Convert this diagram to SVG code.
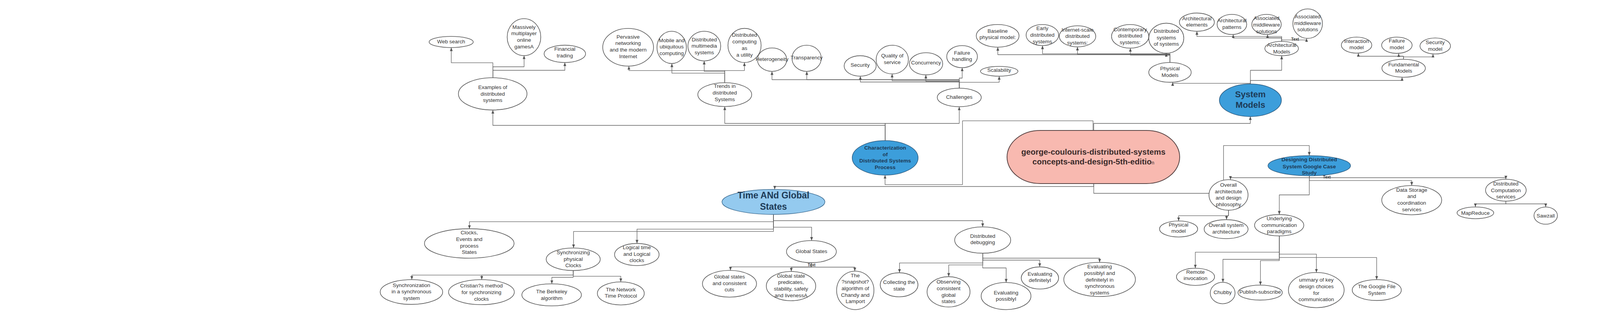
<svg xmlns="http://www.w3.org/2000/svg" width="4555" height="827" viewBox="0 0 4555 827">
<defs>
<marker id="arr" viewBox="0 0 10 10" refX="10" refY="5" markerWidth="9" markerHeight="9" markerUnits="userSpaceOnUse" orient="auto"><path d="M0,1 L10,5 L0,9 z" fill="#555"/></marker>
<style>
.c path{fill:none;stroke:#606060;stroke-width:1.3;stroke-linejoin:round}
.c path.a{marker-end:url(#arr)}
ellipse.w{fill:#fff;stroke:#595959;stroke-width:1.6}
ellipse.b{fill:#3c9edb;stroke:#2e5c80;stroke-width:1.5}
ellipse.lb{fill:#94caef;stroke:#3a6a90;stroke-width:1.5}
text{font-family:"Liberation Sans",Arial,sans-serif;text-anchor:middle}
.t{font-size:13.5px;fill:#333}
.bt{font-size:13.7px;font-weight:bold;fill:#1d3a56}
.lbl{font-size:10px;font-weight:bold;fill:#333}
</style>
</defs>
<rect width="4555" height="827" fill="#fff"/>
<g id="connectors" class="c">
<path class="a" d="M1261.7,199 V160.7 H1155.3 V121.7"/>
<path class="a" d="M1261.7,199 V171 H1341.6 V142.3"/>
<path class="a" d="M1261.7,199 V180 H1446 V160"/>
<path class="a" d="M2266,360 V321 H1261.7 V281.7"/>
<path class="a" d="M2266,360 V316 H1855.4 V272.7"/>
<path class="a" d="M2266,360 V316 H2455.6 V273.3"/>
<path class="a" d="M1855.4,211.7 V180.7 H1610 V169.3"/>
<path class="a" d="M1855.4,211.7 V187.3 H1720 V162.7"/>
<path class="a" d="M1855.4,211.7 V182.7 H1802.7 V156"/>
<path class="a" d="M1855.4,211.7 V180.7 H1905.7 V160"/>
<path class="a" d="M2455.6,225.7 V204 H1976.3 V182.7"/>
<path class="a" d="M2455.6,225.7 V204 H2065.4 V182.7"/>
<path class="a" d="M2455.6,225.7 V210 H2202.5 V195"/>
<path class="a" d="M2455.6,225.7 V206.7 H2283.8 V189.3"/>
<path class="a" d="M2455.6,225.7 V208.3 H2370.2 V191.7"/>
<path class="a" d="M2455.6,225.7 V200 H2463.2 V173.3"/>
<path class="a" d="M2455.6,225.7 V210.7 H2557.9 V195"/>
<path class="a" d="M2995.3,160 V140 H2554.4 V120.7"/>
<path class="a" d="M2995.3,160 V137.7 H2668.8 V116.7"/>
<path class="a" d="M2995.3,160 V139 H2758.3 V120"/>
<path class="a" d="M2995.3,160 V141 H2893.7 V123.3"/>
<path class="a" d="M2995.3,160 V141 H2985.6 V136"/>
<path class="a" d="M3201,215 V213.3 H3002 V210.7"/>
<path class="a" d="M3201,215 V180 H3281.1 V142.7"/>
<path class="a" d="M3201,215 V206 H3589.3 V197.7"/>
<path class="a" d="M2800,334.3 V316 H3200.8 V298.3"/>
<path class="a" d="M3281.1,106 V93.3 H3064.1 V80"/>
<path class="a" d="M3281.1,106 V97.3 H3157 V88.3"/>
<path class="a" d="M3281.1,106 V96.7 H3244.9 V88.3"/>
<path class="a" d="M3281.1,106 V102.3 H3344.8 V98.3"/>
<path class="a" d="M3592.7,151.7 V144 H3477.4 V136"/>
<path class="a" d="M3592.7,151.7 V144 H3580.7 V136.7"/>
<path class="a" d="M3592.7,151.7 V145.7 H3668.5 V138.3"/>
<path class="a" d="M2798.2,334.3 V309.3 H2464 V472.7 H2265.7 V448.3"/>
<path class="a" d="M2800,470 V477.5 H1983.3 V485"/>
<path d="M2800,470 V495 H3095"/>
<path class="a" d="M3132.3,461 V372.7 H3351.7 V398.3"/>
<path class="a" d="M3351.7,450 V455 H3150 V460"/>
<path class="a" d="M3351.7,450 V455 H3855 V459"/>
<path class="a" d="M3351.7,450 V462.3 H3614 V475"/>
<path class="a" d="M3351.7,450 V499 H3275 V549.3"/>
<path class="a" d="M3145,538.3 V552.3 H3017.3 V565.7"/>
<path class="a" d="M3145,538.3 V552.3 H3140 V562.3"/>
<path class="a" d="M3275,604 V645.7 H3060 V686.7"/>
<path class="a" d="M3275,604 V664 H3130.7 V722.7"/>
<path class="a" d="M3275,604 V667.3 H3226.7 V730"/>
<path class="a" d="M3275,604 V650.7 H3370 V697.7"/>
<path class="a" d="M3275,604 V659.3 H3524.3 V716"/>
<path class="a" d="M3855,515 V522 H3777 V530"/>
<path class="a" d="M3855,515 V522 H3957 V530"/>
<path class="a" d="M1980,549 V567.7 H1201.7 V585.7"/>
<path class="a" d="M1980,549 V592.7 H1468.3 V635"/>
<path class="a" d="M1980,549 V586.7 H1630.7 V623.3"/>
<path class="a" d="M1980,549 V581.7 H2077.7 V616"/>
<path class="a" d="M1980,549 V565 H2515.7 V581"/>
<path class="a" d="M1467.5,692.7 V704.3 H1054.3 V716"/>
<path class="a" d="M1467.5,692.7 V704.3 H1233.3 V716"/>
<path class="a" d="M1467.5,692.7 V710 H1412.7 V726.7"/>
<path class="a" d="M1467.5,692.7 V707.3 H1589.3 V721.7"/>
<path class="a" d="M2077.2,672.7 V683.3 H1870 V692.3"/>
<path class="a" d="M2077.2,672.7 V684 H2025.7 V695"/>
<path class="a" d="M2077.2,672.7 V684 H2188.3 V694.3"/>
<path class="a" d="M2515.7,648.3 V661 H2815 V671.7"/>
<path class="a" d="M2515.7,648.3 V666 H2661.7 V683.3"/>
<path class="a" d="M2515.7,648.3 V686 H2575.7 V723.3"/>
<path class="a" d="M2515.7,648.3 V678.3 H2428.7 V708.3"/>
<path class="a" d="M2515.7,648.3 V673.3 H2302.7 V698.3"/>
<text class="lbl" x="3315.5" y="103.5">Text</text>
<text class="lbl" x="2077.7" y="681.8">Text</text>
<text class="lbl" x="3396.7" y="456.8">Text</text>
</g>
<g id="web"><ellipse class="w" cx="1155" cy="107.5" rx="56.5" ry="14.2"/><text class="t" x="1155" y="111">Web search</text></g>
<g id="mmo"><ellipse class="w" cx="1341.4" cy="95" rx="43" ry="47.3"/><text class="t"><tspan x="1341.4" y="73.5">Massively</tspan><tspan x="1341.4" y="90.2">multiplayer</tspan><tspan x="1341.4" y="106.8">online</tspan><tspan x="1341.4" y="123.5">gamesA</tspan></text></g>
<g id="fin"><ellipse class="w" cx="1446" cy="137.8" rx="53" ry="22.2"/><text class="t"><tspan x="1446" y="130.2">Financial</tspan><tspan x="1446" y="146.8">trading</tspan></text></g>
<g id="examples"><ellipse class="w" cx="1261.3" cy="240.3" rx="87.8" ry="41.3"/><text class="t"><tspan x="1261.3" y="227.8">Examples of</tspan><tspan x="1261.3" y="244.5">distributed</tspan><tspan x="1261.3" y="261.2">systems</tspan></text></g>
<g id="pervasive"><ellipse class="w" cx="1608" cy="121" rx="65" ry="48.3"/><text class="t"><tspan x="1608" y="98.5">Pervasive</tspan><tspan x="1608" y="115.2">networking</tspan><tspan x="1608" y="131.8">and the modern</tspan><tspan x="1608" y="148.5">Internet</tspan></text></g>
<g id="mobile"><ellipse class="w" cx="1719.5" cy="121.3" rx="37.7" ry="41.3"/><text class="t"><tspan x="1719.5" y="107.8">Mobile and</tspan><tspan x="1719.5" y="123.8">ubiquitous</tspan><tspan x="1719.5" y="140.5">computing</tspan></text></g>
<g id="multimedia"><ellipse class="w" cx="1803" cy="118" rx="42" ry="38"/><text class="t"><tspan x="1803" y="105.5">Distributed</tspan><tspan x="1803" y="122.2">multimedia</tspan><tspan x="1803" y="138.8">systems</tspan></text></g>
<g id="utility"><ellipse class="w" cx="1906" cy="116.3" rx="42.5" ry="43.7"/><text class="t"><tspan x="1906" y="93.8">Distributed</tspan><tspan x="1906" y="111.2">computing</tspan><tspan x="1906" y="127.8">as</tspan><tspan x="1906" y="144.5">a utility</tspan></text></g>
<g id="hetero"><ellipse class="w" cx="1976.5" cy="152.7" rx="37.5" ry="30"/><text class="t" x="1976.5" y="156.2">Heterogeneity</text></g>
<g id="trends"><ellipse class="w" cx="1855.4" cy="242.2" rx="69" ry="30.5"/><text class="t"><tspan x="1855.4" y="225.2">Trends in</tspan><tspan x="1855.4" y="241.8">distributed</tspan><tspan x="1855.4" y="258.5">Systems</tspan></text></g>
<g id="transparency"><ellipse class="w" cx="2065" cy="149.2" rx="37.4" ry="33.5"/><text class="t" x="2065" y="152.2">Transparency</text></g>
<g id="security"><ellipse class="w" cx="2202" cy="168.8" rx="41" ry="26.2"/><text class="t" x="2202" y="171.2">Security</text></g>
<g id="qos"><ellipse class="w" cx="2284.2" cy="152.5" rx="41.3" ry="36.8"/><text class="t"><tspan x="2284.2" y="147.2">Quality of</tspan><tspan x="2284.2" y="163.8">service</tspan></text></g>
<g id="concurrency"><ellipse class="w" cx="2370.7" cy="163.3" rx="42.7" ry="28.3"/><text class="t" x="2370.7" y="164.5">Concurrency</text></g>
<g id="failure"><ellipse class="w" cx="2462.9" cy="145" rx="39.3" ry="28.3"/><text class="t"><tspan x="2462.9" y="139.5">Failure</tspan><tspan x="2462.9" y="156.2">handling</tspan></text></g>
<g id="challenges"><ellipse class="w" cx="2455.7" cy="249.5" rx="56.3" ry="23.8"/><text class="t" x="2455.7" y="252.8">Challenges</text></g>
<g id="baseline"><ellipse class="w" cx="2554" cy="91.7" rx="54.7" ry="29"/><text class="t"><tspan x="2554" y="83.5">Baseline</tspan><tspan x="2554" y="100.2">physical model:</tspan></text></g>
<g id="scalability"><ellipse class="w" cx="2558" cy="182.5" rx="48" ry="12.5"/><text class="t" x="2558" y="183.8">Scalability</text></g>
<g id="early"><ellipse class="w" cx="2668.5" cy="89.7" rx="41.7" ry="27"/><text class="t"><tspan x="2668.5" y="77.2">Early</tspan><tspan x="2668.5" y="93.8">distributed</tspan><tspan x="2668.5" y="110.5">systems</tspan></text></g>
<g id="internet"><ellipse class="w" cx="2758.5" cy="93" rx="46.7" ry="27"/><text class="t"><tspan x="2758.5" y="81.2">Internet-scale</tspan><tspan x="2758.5" y="97.2">distributed</tspan><tspan x="2758.5" y="113.8">systems:</tspan></text></g>
<g id="contemporary"><ellipse class="w" cx="2893.2" cy="93" rx="47.7" ry="30.3"/><text class="t"><tspan x="2893.2" y="79.5">Contemporary</tspan><tspan x="2893.2" y="96.2">distributed</tspan><tspan x="2893.2" y="112.8">systems:</tspan></text></g>
<g id="dsos"><ellipse class="w" cx="2985.7" cy="97.7" rx="44.8" ry="38.3"/><text class="t"><tspan x="2985.7" y="83.8">Distributed</tspan><tspan x="2985.7" y="100.5">systems</tspan><tspan x="2985.7" y="117.2">of systems</tspan></text></g>
<g id="physmodels"><ellipse class="w" cx="2995.2" cy="185.3" rx="54.3" ry="25.3"/><text class="t"><tspan x="2995.2" y="180.2">Physical</tspan><tspan x="2995.2" y="196.8">Models</tspan></text></g>
<g id="archelem"><ellipse class="w" cx="3064" cy="56.7" rx="44.8" ry="23.3"/><text class="t"><tspan x="3064" y="51.8">Architectural</tspan><tspan x="3064" y="67.8">elements</tspan></text></g>
<g id="archpat"><ellipse class="w" cx="3153.7" cy="62.5" rx="37.9" ry="25.8"/><text class="t"><tspan x="3153.7" y="56.8">Architectural</tspan><tspan x="3153.7" y="73.8">patterns</tspan></text></g>
<g id="assoc1"><ellipse class="w" cx="3242.3" cy="62.5" rx="37.7" ry="25.8"/><text class="t"><tspan x="3242.3" y="51.2">Associated</tspan><tspan x="3242.3" y="67.8">middleware</tspan><tspan x="3242.3" y="84.5">solutions</tspan></text></g>
<g id="assoc2"><ellipse class="w" cx="3347.6" cy="60.5" rx="37.9" ry="37.8"/><text class="t"><tspan x="3347.6" y="46.8">Associated</tspan><tspan x="3347.6" y="63.5">middleware</tspan><tspan x="3347.6" y="80.2">solutions</tspan></text></g>
<g id="archmodels"><ellipse class="w" cx="3281" cy="124.3" rx="43" ry="18.3"/><text class="t"><tspan x="3281" y="120.2">Architectural</tspan><tspan x="3281" y="136.8">Models</tspan></text></g>
<g id="sysmodels"><ellipse class="b" cx="3201" cy="256.7" rx="79.4" ry="41.7"/><text class="bt" style="font-size:22px"><tspan x="3201" y="248.6">System</tspan><tspan x="3201" y="275.6">Models</tspan></text></g>
<g id="interaction"><ellipse class="w" cx="3472.8" cy="115.5" rx="39" ry="20.5"/><text class="t"><tspan x="3472.8" y="110.2">Interaction</tspan><tspan x="3472.8" y="126.2">model</tspan></text></g>
<g id="failmodel"><ellipse class="w" cx="3576" cy="115.8" rx="39" ry="20.8"/><text class="t"><tspan x="3576" y="108.8">Failure</tspan><tspan x="3576" y="125.5">model</tspan></text></g>
<g id="secmodel"><ellipse class="w" cx="3674.2" cy="117.8" rx="39.1" ry="20.5"/><text class="t"><tspan x="3674.2" y="112.8">Security</tspan><tspan x="3674.2" y="129.5">model</tspan></text></g>
<g id="fundamental"><ellipse class="w" cx="3593.3" cy="174.7" rx="55.6" ry="23"/><text class="t"><tspan x="3593.3" y="169.5">Fundamental</tspan><tspan x="3593.3" y="186.2">Models</tspan></text></g>
<g id="char"><ellipse class="b" cx="2266" cy="404.2" rx="84.4" ry="44.2"/><text class="bt"><tspan x="2266" y="383">Characterization</tspan><tspan x="2266" y="399.5">of</tspan><tspan x="2266" y="416">Distributed Systems</tspan><tspan x="2266" y="432.5">Process</tspan></text></g>
<g id="center"><rect x="2578" y="334" width="442" height="136" rx="85" ry="68" fill="#f8b9b0" stroke="#5a4545" stroke-width="2"/><text style="font-size:20.5px;font-weight:bold;fill:#3a2a2a"><tspan x="2799" y="395.5">george-coulouris-distributed-systems</tspan><tspan x="2799" y="420.5">concepts-and-design-5th-editio<tspan style="font-size:12px;font-weight:normal">n</tspan></tspan></text></g>
<g id="designing"><ellipse class="b" cx="3351.7" cy="424.2" rx="105.7" ry="25.8"/><text class="bt"><tspan x="3351.7" y="413">Designing Distributed</tspan><tspan x="3351.7" y="430.5">System Google Case</tspan><tspan x="3351.7" y="447">Study</tspan></text></g>
<g id="overall"><ellipse class="w" cx="3145" cy="499.2" rx="50" ry="39.2"/><text class="t"><tspan x="3145" y="477.8">Overall</tspan><tspan x="3145" y="494.5">architectute</tspan><tspan x="3145" y="511.2">and design</tspan><tspan x="3145" y="527.8">philosophy</tspan></text></g>
<g id="physmodel"><ellipse class="w" cx="3017.2" cy="586.2" rx="48.8" ry="20.5"/><text class="t"><tspan x="3017.2" y="579.5">Physical</tspan><tspan x="3017.2" y="596.2">model</tspan></text></g>
<g id="oversys"><ellipse class="w" cx="3138.8" cy="586.7" rx="56.2" ry="24.3"/><text class="t"><tspan x="3138.8" y="581.2">Overall system</tspan><tspan x="3138.8" y="597.8">architecture</tspan></text></g>
<g id="underlying"><ellipse class="w" cx="3274.7" cy="576.7" rx="63" ry="27.3"/><text class="t"><tspan x="3274.7" y="563.8">Underlying</tspan><tspan x="3274.7" y="580.5">communication</tspan><tspan x="3274.7" y="597.2">paradigms</tspan></text></g>
<g id="remote"><ellipse class="w" cx="3060.5" cy="708.7" rx="48.8" ry="22"/><text class="t"><tspan x="3060.5" y="700.5">Remote</tspan><tspan x="3060.5" y="717.2">invocation</tspan></text></g>
<g id="chubby"><ellipse class="w" cx="3130" cy="750.2" rx="31.7" ry="27.5"/><text class="t" x="3130" y="752.8">Chubby</text></g>
<g id="publish"><ellipse class="w" cx="3226" cy="749.2" rx="56.7" ry="19.2"/><text class="t" x="3226" y="752.2">Publish-subscribe</text></g>
<g id="summary"><ellipse class="w" cx="3369.7" cy="742.7" rx="71.3" ry="45"/><text class="t"><tspan x="3369.7" y="721.2">ummary of key</tspan><tspan x="3369.7" y="737.8">design choices</tspan><tspan x="3369.7" y="754.5">for</tspan><tspan x="3369.7" y="771.2">communication</tspan></text></g>
<g id="gfs"><ellipse class="w" cx="3524.5" cy="742.7" rx="62.8" ry="26.7"/><text class="t"><tspan x="3524.5" y="737.8">The Google File</tspan><tspan x="3524.5" y="754.5">System</tspan></text></g>
<g id="datastorage"><ellipse class="w" cx="3614" cy="512.5" rx="76.7" ry="37.5"/><text class="t"><tspan x="3614" y="490.5">Data Storage</tspan><tspan x="3614" y="507.2">and</tspan><tspan x="3614" y="523.8">coordination</tspan><tspan x="3614" y="540.5">services</tspan></text></g>
<g id="dcs"><ellipse class="w" cx="3855" cy="487" rx="52" ry="28"/><text class="t"><tspan x="3855" y="474.8">Distributed</tspan><tspan x="3855" y="491.5">Computation</tspan><tspan x="3855" y="508.2">services</tspan></text></g>
<g id="mapreduce"><ellipse class="w" cx="3777" cy="545" rx="47" ry="15"/><text class="t" x="3777" y="549.5">MapReduce</text></g>
<g id="sawzall"><ellipse class="w" cx="3957" cy="552" rx="30" ry="22"/><text class="t" x="3957" y="556.5">Sawzall</text></g>
<g id="time"><ellipse class="lb" cx="1980" cy="517" rx="131.7" ry="32"/><text class="bt" style="font-size:23px"><tspan x="1980" y="508.3">Time ANd Global</tspan><tspan x="1980" y="536.6">States</tspan></text></g>
<g id="clocks"><ellipse class="w" cx="1201.3" cy="623.3" rx="114.7" ry="37.7"/><text class="t"><tspan x="1201.3" y="600.2">Clocks,</tspan><tspan x="1201.3" y="616.8">Events and</tspan><tspan x="1201.3" y="633.5">process</tspan><tspan x="1201.3" y="650.2">States</tspan></text></g>
<g id="syncphys"><ellipse class="w" cx="1467.5" cy="663.8" rx="69.2" ry="28.8"/><text class="t"><tspan x="1467.5" y="651.2">Synchronizing</tspan><tspan x="1467.5" y="667.8">physical</tspan><tspan x="1467.5" y="683.8">Clocks</tspan></text></g>
<g id="logical"><ellipse class="w" cx="1630.3" cy="651.7" rx="57" ry="28.3"/><text class="t"><tspan x="1630.3" y="637.8">Logical time</tspan><tspan x="1630.3" y="654.5">and Logical</tspan><tspan x="1630.3" y="671.2">clocks</tspan></text></g>
<g id="syncsync"><ellipse class="w" cx="1053.3" cy="747.7" rx="80" ry="31.7"/><text class="t"><tspan x="1053.3" y="734.5">Synchronization</tspan><tspan x="1053.3" y="751.2">in a synchronous</tspan><tspan x="1053.3" y="767.8">system</tspan></text></g>
<g id="cristian"><ellipse class="w" cx="1232.5" cy="748" rx="84.2" ry="32"/><text class="t"><tspan x="1232.5" y="736.2">Cristian?s method</tspan><tspan x="1232.5" y="752.8">for synchronizing</tspan><tspan x="1232.5" y="769.5">clocks</tspan></text></g>
<g id="berkeley"><ellipse class="w" cx="1412.2" cy="755" rx="76.2" ry="28.3"/><text class="t"><tspan x="1412.2" y="751.2">The Berkeley</tspan><tspan x="1412.2" y="767.8">algorithm</tspan></text></g>
<g id="ntp"><ellipse class="w" cx="1589.3" cy="751.2" rx="60" ry="29.5"/><text class="t"><tspan x="1589.3" y="745.5">The Network</tspan><tspan x="1589.3" y="762.2">Time Protocol</tspan></text></g>
<g id="globalstates"><ellipse class="w" cx="2077.2" cy="644.3" rx="63.8" ry="28.3"/><text class="t" x="2077.2" y="647.8">Global States</text></g>
<g id="cuts"><ellipse class="w" cx="1867.5" cy="726.5" rx="69.2" ry="34.2"/><text class="t"><tspan x="1867.5" y="712.8">Global states</tspan><tspan x="1867.5" y="729.5">and consistent</tspan><tspan x="1867.5" y="746.2">cuts</tspan></text></g>
<g id="predicates"><ellipse class="w" cx="2025" cy="732.5" rx="63.3" ry="37.5"/><text class="t"><tspan x="2025" y="710.5">Global state</tspan><tspan x="2025" y="727.2">predicates,</tspan><tspan x="2025" y="743.8">stability, safety</tspan><tspan x="2025" y="760.5">and livenessA</tspan></text></g>
<g id="snapshot"><ellipse class="w" cx="2189.5" cy="743.5" rx="47.8" ry="49.2"/><text class="t"><tspan x="2189.5" y="709.5">The</tspan><tspan x="2189.5" y="726.2">?snapshot?</tspan><tspan x="2189.5" y="742.8">algorithm of</tspan><tspan x="2189.5" y="759.5">Chandy and</tspan><tspan x="2189.5" y="776.2">Lamport</tspan></text></g>
<g id="dd"><ellipse class="w" cx="2515.7" cy="614.7" rx="71.7" ry="33.7"/><text class="t"><tspan x="2515.7" y="608.5">Distributed</tspan><tspan x="2515.7" y="625.2">debugging</tspan></text></g>
<g id="collecting"><ellipse class="w" cx="2301.7" cy="729.2" rx="48.3" ry="30.8"/><text class="t"><tspan x="2301.7" y="726.8">Collecting the</tspan><tspan x="2301.7" y="743.5">state</tspan></text></g>
<g id="observing"><ellipse class="w" cx="2428.3" cy="747.2" rx="55" ry="38.8"/><text class="t"><tspan x="2428.3" y="726.2">Observing</tspan><tspan x="2428.3" y="742.8">consistent</tspan><tspan x="2428.3" y="759.5">global</tspan><tspan x="2428.3" y="776.2">states</tspan></text></g>
<g id="evalposs"><ellipse class="w" cx="2575.5" cy="758" rx="63.8" ry="34.7"/><text class="t"><tspan x="2575.5" y="753.5">Evaluating</tspan><tspan x="2575.5" y="770.2">possiblyI</tspan></text></g>
<g id="evaldef"><ellipse class="w" cx="2662.2" cy="711.7" rx="47.8" ry="28.3"/><text class="t"><tspan x="2662.2" y="705.5">Evaluating</tspan><tspan x="2662.2" y="722.2">definitelyI</tspan></text></g>
<g id="evalboth"><ellipse class="w" cx="2815" cy="715.5" rx="91.7" ry="43.8"/><text class="t"><tspan x="2815" y="687.2">Evaluating</tspan><tspan x="2815" y="703.8">possiblyI and</tspan><tspan x="2815" y="720.5">definitelyI in</tspan><tspan x="2815" y="737.2">synchronous</tspan><tspan x="2815" y="753.8">systems</tspan></text></g>
</svg>
